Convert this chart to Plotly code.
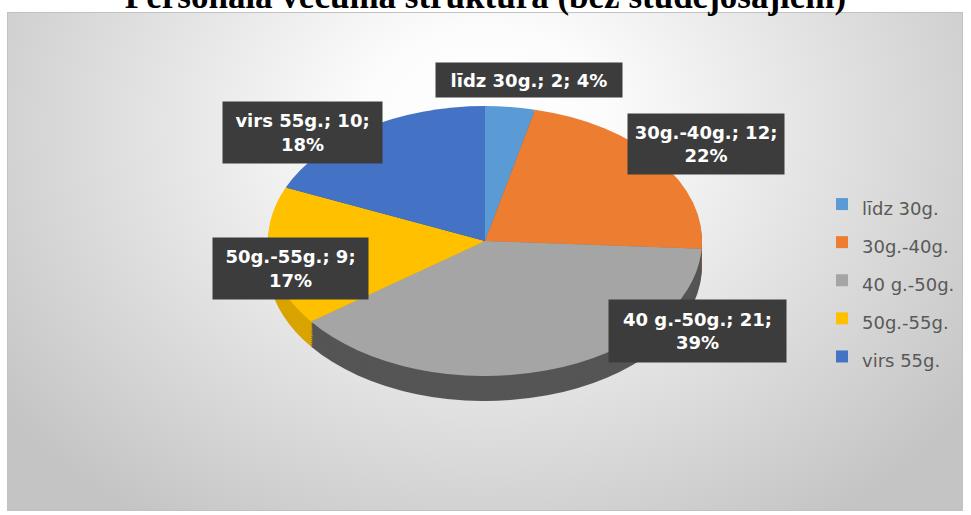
import base64
import plotly.graph_objects as go

# ---- data ----
categories = ["līdz 30g.", "30g.-40g.", "40 g.-50g.", "50g.-55g.", "virs 55g."]
values = [2, 12, 21, 9, 10]
top_colors = ["#5B9BD5", "#ED7D31", "#A5A5A5", "#FFC000", "#4472C4"]
side_colors = ["#3E6E9C", "#B45B20", "#555555", "#D9A300", "#2F5496"]
title_text = "Personāla vecuma struktūra (bez studējošajiem)"

W, H = 971, 515
# pie geometry in px (ellipse centre, radii, rim depth)
cx, cy, rx, ry, depth = 485, 241, 217, 135, 25
k = ry / rx

# percentages rounded so that they add up to 100 (as the source chart shows)
total = sum(values)
raw = [100 * v / total for v in values]
pcts = [int(r) for r in raw]
order = sorted(range(len(raw)), key=lambda i: raw[i] - pcts[i], reverse=True)
for i in order[:100 - sum(pcts)]:
    pcts[i] += 1

fig = go.Figure()

# 3D rim: stacked darker pies, drawn first (deepest first)
n_layers = 12
d_pre = depth / k
for i in range(n_layers, 0, -1):
    off = d_pre * i / n_layers
    fig.add_trace(go.Pie(
        labels=categories, values=values, sort=False, direction="clockwise",
        marker=dict(colors=side_colors, line=dict(width=0)),
        textinfo="none", hoverinfo="skip", showlegend=False,
        domain=dict(x=[(cx - rx) / W, (cx + rx) / W],
                    y=[1 - (cy + off + rx) / H, 1 - (cy + off - rx) / H]),
    ))

# legend labels: visible text size set inline, legend font size gives row spacing
legend_labels = ['<span style="font-size:18px">%s</span>' % c for c in categories]

fig.add_trace(go.Pie(
    labels=legend_labels, values=values, sort=False, direction="clockwise",
    marker=dict(colors=top_colors, line=dict(width=0)),
    textinfo="none", hovertext=categories, hoverinfo="text+value+percent",
    domain=dict(x=[(cx - rx) / W, (cx + rx) / W],
                y=[1 - (cy + rx) / H, 1 - (cy - rx) / H]),
))

# data label boxes (centre px, width, height)
label_boxes = [(529, 80, 186, 34), (706, 144, 156, 60), (697, 331, 177, 62),
               (290, 268, 155, 61), (302, 132, 159, 61)]
annotations = []
for i, (c, v, p) in enumerate(zip(categories, values, pcts)):
    sep = " " if i == 0 else "<br>"
    txt = f"{c}; {v};{sep}{p}%"
    bx, by, bw, bh = label_boxes[i]
    annotations.append(dict(
        text=txt, x=bx / W, y=1 - by / H, xref="paper", yref="paper",
        xanchor="center", yanchor="middle", showarrow=False,
        width=bw, height=bh, align="center", valign="middle",
        bgcolor="#3c3c3c", borderpad=0,
        font=dict(family="DejaVu Sans", size=18, color="white", weight="bold"),
    ))

# chart-area background (radial grey gradient)
bx0, by0, bx1, by1 = 7, 12, 963, 511
bw_, bh_ = bx1 - bx0, by1 - by0
gcx, gcy = cx - bx0, 125 - by0
bg_svg = f'''<svg xmlns="http://www.w3.org/2000/svg" width="{bw_}" height="{bh_}" viewBox="0 0 {bw_} {bh_}">
<defs><radialGradient id="g" gradientUnits="userSpaceOnUse" cx="{gcx}" cy="{gcy}" r="600"
 gradientTransform="translate({gcx} {gcy}) scale(1 0.8) translate({-gcx} {-gcy})">
<stop offset="0" stop-color="#ffffff"/><stop offset="0.2" stop-color="#fcfcfc"/>
<stop offset="1" stop-color="#c4c4c4"/></radialGradient></defs>
<rect x="0" y="0" width="{bw_}" height="{bh_}" fill="url(#g)" stroke="#c2c2c2" stroke-width="2"/></svg>'''
bg_src = "data:image/svg+xml;base64," + base64.b64encode(bg_svg.encode()).decode()

fig.update_layout(
    width=W, height=H,
    margin=dict(l=0, r=0, t=0, b=0),
    paper_bgcolor="white",
    title=dict(text=title_text, x=0.5, xanchor="center", y=1 - 8 / H,
               yanchor="bottom", yref="container",
               font=dict(family="Liberation Serif", size=35, color="black", weight="bold")),
    legend=dict(x=822 / W, y=1 - 180 / H, xanchor="left", yanchor="top",
                font=dict(family="DejaVu Sans", size=27, color="#595959"),
                bgcolor="rgba(0,0,0,0)", traceorder="normal"),
    annotations=annotations,
    images=[dict(source=bg_src, xref="paper", yref="paper", x=bx0 / W, y=1 - by0 / H,
                 sizex=bw_ / W, sizey=bh_ / H, xanchor="left", yanchor="top",
                 sizing="stretch", layer="below")],
)

post = """
document.body.style.margin = '0';
document.documentElement.style.overflow = 'hidden';
var gd = document.getElementById('{plot_id}');
function squash(){
  var layer = gd.querySelector('.pielayer');
  if(!layer) return;
  layer.setAttribute('transform', 'translate(0,%f) scale(1,%f) translate(0,%f)');
}
squash();
if (gd.on) gd.on('plotly_afterplot', squash);
""" % (cy, k, -cy)

fig.write_html("out.html", post_script=post, config={"displayModeBar": False})
